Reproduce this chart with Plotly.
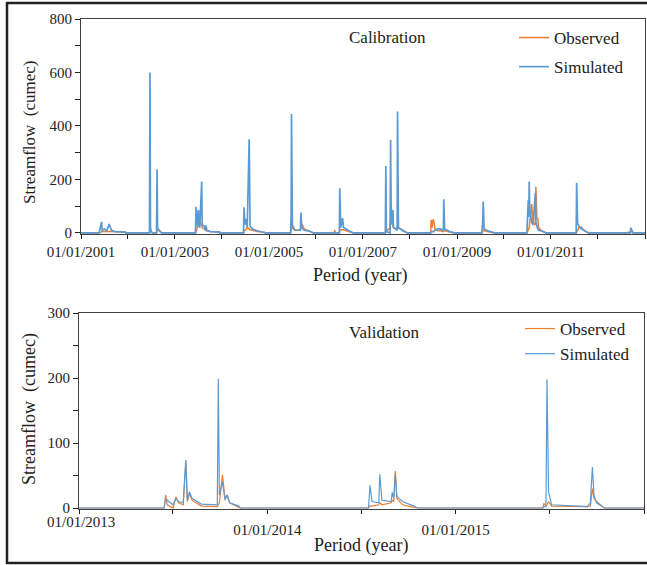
import plotly.graph_objects as go

# ---------------- data ----------------
cal_dates = [
    "2001-01-01", "2001-05-22", "2001-06-10", "2001-06-14", "2001-07-02", "2001-07-20", "2001-08-08",
    "2001-08-15", "2001-08-26", "2001-09-20", "2001-12-09", "2001-12-14",
    "2002-06-17", "2002-06-21", "2002-06-25", "2002-07-02", "2002-07-09", "2002-08-11", "2002-08-15",
    "2002-08-19", "2002-09-06", "2002-09-20",
    "2003-06-10", "2003-06-14", "2003-06-21", "2003-07-02", "2003-07-06", "2003-07-13", "2003-07-28",
    "2003-08-01", "2003-08-19", "2003-08-23", "2003-08-30", "2003-09-06", "2003-10-02", "2003-12-14",
    "2003-12-18",
    "2004-06-17", "2004-06-21", "2004-06-28", "2004-07-09", "2004-07-16", "2004-07-31", "2004-08-07",
    "2004-08-25", "2004-10-01", "2004-11-25", "2004-12-06",
    "2005-06-18", "2005-06-22", "2005-06-25", "2005-07-02", "2005-07-20", "2005-09-02", "2005-09-06",
    "2005-09-13", "2005-10-01", "2005-11-06", "2005-12-12",
    "2006-05-23", "2006-05-27", "2006-05-31", "2006-07-02", "2006-07-05", "2006-07-13", "2006-07-27",
    "2006-08-03", "2006-09-13", "2006-10-19",
    "2007-06-24", "2007-06-28", "2007-07-02", "2007-07-31", "2007-08-04", "2007-08-08", "2007-08-15",
    "2007-08-22", "2007-08-26", "2007-09-24", "2007-09-27", "2007-10-04", "2007-11-06", "2007-12-13",
    "2008-06-10", "2008-06-14", "2008-06-21", "2008-06-28", "2008-07-05", "2008-07-13", "2008-08-07",
    "2008-08-26", "2008-09-17", "2008-09-20", "2008-09-27", "2008-11-06", "2008-12-12",
    "2009-07-13", "2009-07-20", "2009-07-24", "2009-07-31", "2009-08-26", "2009-10-20",
    "2010-06-28", "2010-07-02", "2010-07-09", "2010-07-13", "2010-07-16", "2010-07-20", "2010-08-04",
    "2010-08-15", "2010-09-02", "2010-09-06", "2010-09-13", "2010-09-20", "2010-09-27", "2010-10-19",
    "2010-11-25",
    "2011-07-16", "2011-07-20", "2011-07-27", "2011-08-07", "2011-08-26", "2011-09-13", "2011-10-19",
    "2012-08-23", "2012-08-26", "2012-08-30", "2012-09-09", "2012-09-12", "2012-09-20", "2012-10-01",
    "2013-01-01",
]
cal_simulated = [
    0, 0, 42, 10, 15, 8, 33, 25, 10, 5, 3, 0,
    0, 600, 20, 5, 0, 0, 238, 20, 5, 0,
    0, 98, 30, 86, 25, 20, 192, 30, 25, 10, 28, 10, 5, 3, 0,
    0, 96, 30, 52, 20, 350, 25, 15, 8, 3, 0,
    0, 67, 445, 30, 10, 10, 76, 20, 10, 8, 0,
    0, 0, 0, 0, 167, 20, 55, 20, 8, 0,
    0, 250, 5, 0, 348, 100, 30, 86, 20, 10, 454, 20, 8, 0,
    0, 5, 5, 5, 5, 10, 15, 15, 8, 126, 15, 5, 0,
    0, 45, 117, 15, 8, 0,
    0, 30, 123, 60, 192, 90, 40, 30, 150, 40, 20, 15, 10, 8, 0,
    0, 188, 37, 25, 15, 10, 0,
    0, 0, 0, 0, 19, 10, 0,
    0,
]
cal_observed = [
    0, 0, 4, 5, 5, 5, 6, 6, 6, 5, 4, 0,
    0, 5, 5, 3, 0, 0, 8, 10, 8, 0,
    0, 5, 15, 60, 83, 40, 30, 20, 12, 10, 10, 8, 5, 4, 0,
    0, 5, 10, 15, 20, 15, 12, 10, 5, 3, 0,
    0, 10, 30, 20, 10, 10, 20, 34, 15, 8, 0,
    0, 10, 0, 0, 10, 12, 12, 12, 5, 0,
    0, 3, 5, 20, 50, 110, 40, 25, 20, 15, 25, 20, 10, 0,
    0, 49, 20, 50, 45, 15, 8, 8, 5, 8, 8, 5, 0,
    0, 10, 10, 8, 5, 0,
    0, 5, 10, 15, 20, 40, 108, 40, 30, 173, 56, 55, 20, 8, 0,
    0, 5, 10, 20, 22, 10, 0,
    0, 5, 0, 0, 5, 5, 0,
    0,
]

val_dates = [
    "2013-01-01", "2013-06-15", "2013-06-18", "2013-06-21", "2013-07-02", "2013-07-08", "2013-07-13",
    "2013-07-22", "2013-07-27", "2013-07-30", "2013-08-03", "2013-08-08", "2013-08-26", "2013-09-26",
    "2013-09-28", "2013-09-30", "2013-10-06", "2013-10-11", "2013-10-15", "2013-10-20", "2013-11-07",
    "2013-11-10",
    "2014-07-16", "2014-07-19", "2014-07-23", "2014-08-05", "2014-08-07", "2014-08-11", "2014-08-29",
    "2014-08-31", "2014-09-03", "2014-09-06", "2014-09-09", "2014-09-20", "2014-10-12", "2014-10-19",
    "2015-06-19", "2015-06-21", "2015-06-25", "2015-06-27", "2015-06-30", "2015-07-06", "2015-09-13",
    "2015-09-19", "2015-09-23", "2015-09-26", "2015-10-01", "2015-10-16",
    "2016-01-01",
]
val_simulated = [
    0, 0, 15, 12, 5, 15, 10, 8, 74, 12, 25, 15, 6, 5, 199, 20, 40, 12, 20, 8, 3, 0,
    0, 35, 10, 8, 52, 12, 10, 24, 15, 53, 18, 10, 3, 0,
    0, 2, 2, 198, 25, 5, 2, 8, 63, 20, 8, 0,
    0,
]
val_observed = [
    0, 0, 20, 5, 0, 17, 8, 5, 72, 10, 22, 12, 3, 2, 5, 8, 51, 15, 20, 8, 1, 0,
    0, 3, 3, 5, 8, 5, 8, 12, 10, 57, 15, 5, 1, 0,
    0, 7, 3, 5, 10, 3, 2, 3, 30, 15, 10, 0,
    0,
]

cal_tick_dates = ["2001-01-01", "2002-01-01", "2003-01-01", "2004-01-01", "2005-01-01", "2006-01-01",
                  "2007-01-01", "2008-01-01", "2009-01-01", "2010-01-01", "2011-01-01", "2012-01-01",
                  "2013-01-01"]
cal_tick_text = ["01/01/2001", "", "01/01/2003", "", "01/01/2005", "", "01/01/2007", "",
                 "01/01/2009", "", "01/01/2011", "", ""]
val_tick_dates = ["2013-01-01", "2013-07-02", "2014-01-01", "2014-07-02", "2015-01-01", "2015-07-02",
                  "2016-01-01"]
val_tick_text = ["", "", "01/01/2014", "", "01/01/2015", "", ""]
cal_y_ticks = [0, 100, 200, 300, 400, 500, 600, 700, 800]
cal_y_text = ["0", "", "200", "", "400", "", "600", "", "800"]
val_y_ticks = [0, 50, 100, 150, 200, 250, 300]
val_y_text = ["0", "", "100", "", "200", "", "300"]

# ---------------- figure ----------------
W, H = 647, 565
OX, OY = 0, 0   # page body margin is removed below
FONT = "Liberation Serif, Times New Roman, serif"
ORANGE = "#ED7D31"
BLUE = "#5B9BD5"

def px(x):
    return (x - OX) / W

def py(y):
    return 1 - (y - OY) / H

fig = go.Figure()
fig.add_trace(go.Scatter(x=cal_dates, y=cal_observed, mode="lines", name="Observed",
                         line=dict(color=ORANGE, width=1.5), xaxis="x", yaxis="y",
                         legend="legend", legendgroup="o1"))
fig.add_trace(go.Scatter(x=cal_dates, y=cal_simulated, mode="lines", name="Simulated",
                         line=dict(color=BLUE, width=1.7), xaxis="x", yaxis="y",
                         legend="legend", legendgroup="s1"))
fig.add_trace(go.Scatter(x=val_dates, y=val_observed, mode="lines", name="Observed",
                         line=dict(color=ORANGE, width=1.2), xaxis="x2", yaxis="y2",
                         legend="legend2", legendgroup="o2"))
fig.add_trace(go.Scatter(x=val_dates, y=val_simulated, mode="lines", name="Simulated",
                         line=dict(color=BLUE, width=1.2), xaxis="x2", yaxis="y2",
                         legend="legend2", legendgroup="s2"))

axis_common = dict(showgrid=False, zeroline=False, showline=True, mirror=True, automargin=False,
                   linecolor="#404040", linewidth=1, ticks="outside", tickcolor="#222",
                   tickfont=dict(family=FONT, size=15, color="#222"))

fig.update_layout(
    template="none",
    width=W, height=H,
    margin=dict(l=0, r=0, t=0, b=0, autoexpand=False),
    paper_bgcolor="white", plot_bgcolor="white",
    font=dict(family=FONT, color="#222"),
    xaxis=dict(axis_common, type="date", domain=[px(81), px(645)],
               range=["2001-01-01", "2013-01-01"], tickmode="array",
               tickvals=cal_tick_dates, ticktext=cal_tick_text, ticklen=4, anchor="y"),
    yaxis=dict(axis_common, domain=[py(234), py(19)], range=[-4, 800], tickmode="array",
               tickvals=cal_y_ticks, ticktext=cal_y_text, ticklen=5, anchor="x"),
    xaxis2=dict(axis_common, type="date", domain=[px(79), px(644)],
                range=["2013-01-01", "2016-01-01"], tickmode="array",
                tickvals=val_tick_dates, ticktext=val_tick_text, ticklen=4, anchor="y2",
                ticklabelstandoff=3),
    yaxis2=dict(axis_common, domain=[py(509), py(313)], range=[-1.5, 300], tickmode="array",
                tickvals=val_y_ticks, ticktext=val_y_text, ticklen=5, anchor="x2"),
    legend=dict(x=px(514), y=py(20), xanchor="left", yanchor="top",
                font=dict(family=FONT, size=17, color="#222"), bgcolor="rgba(0,0,0,0)",
                traceorder="grouped", tracegroupgap=4, itemwidth=30),
    legend2=dict(x=px(520), y=py(311), xanchor="left", yanchor="top",
                 font=dict(family=FONT, size=17, color="#222"), bgcolor="rgba(0,0,0,0)",
                 traceorder="grouped", tracegroupgap=0, itemwidth=30),
    showlegend=True,
)

ann = [
    dict(text="Calibration", x=px(387), y=py(38), size=17),
    dict(text="Validation", x=px(384), y=py(332), size=17),
    dict(text="Period (year)", x=px(360), y=py(275), size=18),
    dict(text="Period (year)", x=px(361), y=py(545), size=18),
    dict(text="01/01/2013", x=px(81), y=py(522), size=15),
]
for a in ann:
    fig.add_annotation(text=a["text"], x=a["x"], y=a["y"], xref="paper", yref="paper",
                       showarrow=False, xanchor="center", yanchor="middle",
                       font=dict(family=FONT, size=a["size"], color="#222"))
fig.add_annotation(text="Streamflow  (cumec)", x=px(29), y=py(132), xref="paper", yref="paper",
                   showarrow=False, textangle=-90, xanchor="center", yanchor="middle",
                   font=dict(family=FONT, size=17, color="#222"))
fig.add_annotation(text="Streamflow  (cumec)", x=px(30), y=py(409), xref="paper", yref="paper",
                   showarrow=False, textangle=-90, xanchor="center", yanchor="middle",
                   font=dict(family=FONT, size=18, color="#222"))

# outer frame
fig.add_shape(type="rect", xref="paper", yref="paper", x0=px(7), x1=px(660), y0=py(563), y1=py(3),
              line=dict(color="#222", width=2.5), fillcolor="rgba(0,0,0,0)", layer="above")

fig.write_html("out.html", config={"displayModeBar": False},
               post_script="document.body.style.margin='0';document.body.style.overflow='hidden';")
